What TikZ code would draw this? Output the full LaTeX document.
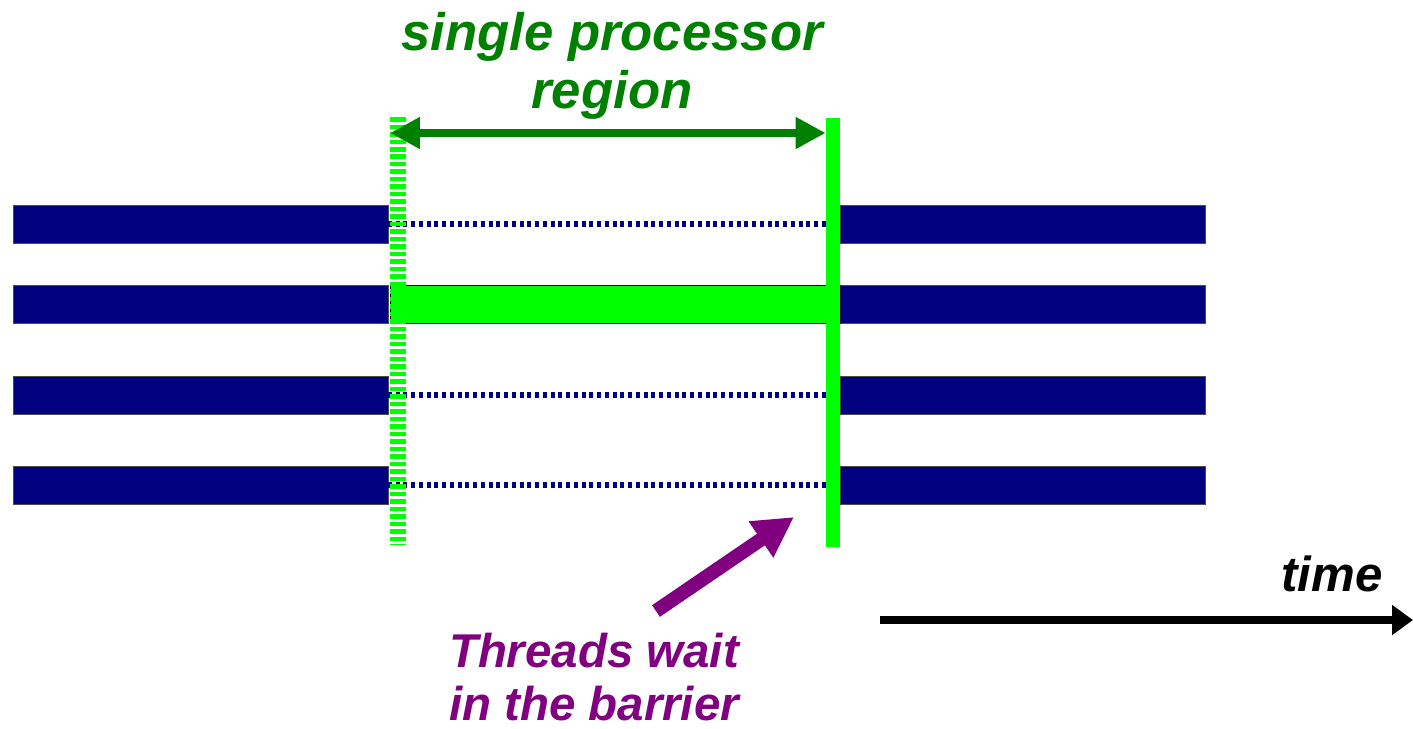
\documentclass[tikz,border=0pt]{standalone}
\usepackage{fontspec}
\setmainfont{Liberation Sans}
\usepackage{tikz}
\usetikzlibrary{arrows.meta,positioning,calc}
\definecolor{threadblue}{RGB}{0,0,128}
\definecolor{barriergreen}{RGB}{0,255,0}
\definecolor{spangreen}{RGB}{0,128,0}
\definecolor{waitpurple}{RGB}{128,0,128}

\tikzset{
    thread/.style={draw=black!70, line width=0.5pt, fill=threadblue, minimum height=0.76cm, inner sep=0pt, outer sep=0pt},
    singlebar/.style={draw=black, line width=0.5pt, fill=barriergreen, minimum height=0.76cm, inner sep=0pt, outer sep=0pt},
    waitline/.style={threadblue, line width=0.12cm, dash pattern=on 0.08cm off 0.075cm},
    forkline/.style={barriergreen, line width=0.32cm, dash pattern=on 0.09cm off 0.06cm},
    label/.style={font=\bfseries\itshape, align=center, inner sep=0pt}
}

\begin{document}
\begin{tikzpicture}[x=0.02cm, y=-0.02cm]
    \useasboundingbox (0,0) rectangle (1413,728);
    % threads before and after the region
    \foreach \r/\y in {1/224,2/304,3/395,4/485} {
        \node[thread, minimum width=7.5cm] (left\r) at (200.5,\y) {};
        \node[thread, minimum width=7.3cm] (right\r) at (1022.5,\y) {};
    }
    \node[singlebar, minimum width=9cm] (single) at (615,304) {};
    \node[fill=barriergreen, minimum width=0.28cm, minimum height=8.58cm, inner sep=0pt] (barrier) at (833,332.5) {};
    % waiting threads
    \foreach \r in {1,3,4}
        \draw[waitline] (left\r.east) -- (left\r.east -| barrier.west);
    \coordinate (forktop) at (398,117);
    \coordinate (forkbot) at (398,545);
    \draw[forkline] (forktop) -- (forkbot);
    \node[fill=barriergreen, minimum width=0.28cm, minimum height=8.58cm, inner sep=0pt] at (barrier) {};
    % region span
    \coordinate (spanl) at (390,133);
    \draw[spangreen, line width=0.16cm, {Triangle[length=0.6cm,width=0.6cm]}-{Triangle[length=0.6cm,width=0.6cm]}]
        (spanl) -- (barrier.west |- spanl);
    \node[label, spangreen, font=\fontsize{30}{33}\selectfont\bfseries\itshape] (title) at (612,66) {single processor\\region};
    % barrier note
    \node[label, waitpurple, font=\fontsize{27}{30}\selectfont\bfseries\itshape] (waittext) at (594,677) {Threads wait\\in the barrier};
    \coordinate (waittail) at (656,611);
    \coordinate (waittip) at (794,517);
    \draw[waitpurple, line width=0.28cm, -{Triangle[length=0.8cm,width=0.82cm]}] (waittail) -- (waittip);
    % time axis
    \coordinate (t0) at (880,620);
    \coordinate (t1) at (1413,620);
    \draw[black, line width=0.16cm, -{Triangle[length=0.42cm,width=0.58cm]}] (t0) -- (t1);
    \node[label, font=\fontsize{28}{30}\selectfont\bfseries\itshape] (timelabel) at (1332,574) {time};
\end{tikzpicture}
\end{document}
